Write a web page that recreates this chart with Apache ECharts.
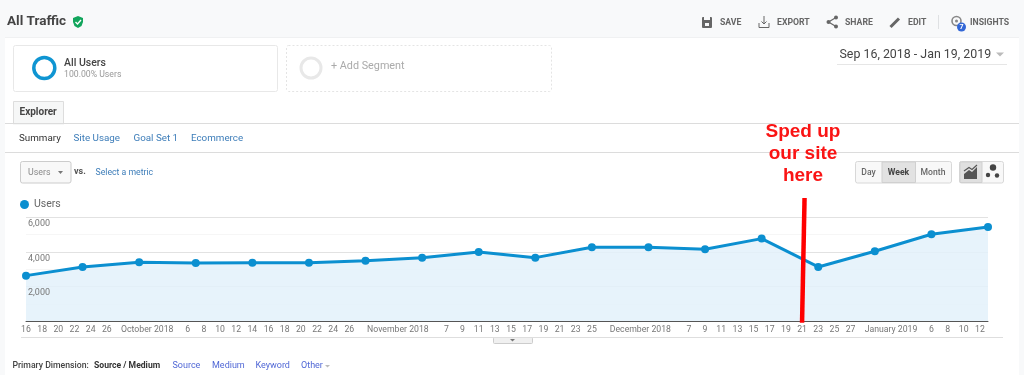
<!DOCTYPE html>
<html>
<head>
<meta charset="utf-8">
<title>All Traffic</title>
<style>
  html, body { margin: 0; padding: 0; background: #fff; }
  #chart { width: 1024px; height: 375px; }
</style>
<script src="https://cdn.jsdelivr.net/npm/echarts@6/dist/echarts.min.js"></script>
</head>
<body>
<div id="chart"></div>
<script>
var weekDates = ['2018-09-16', '2018-09-23', '2018-09-30', '2018-10-07', '2018-10-14', '2018-10-21',
  '2018-10-28', '2018-11-04', '2018-11-11', '2018-11-18', '2018-11-25', '2018-12-02',
  '2018-12-09', '2018-12-16', '2018-12-23', '2018-12-30', '2019-01-06', '2019-01-13']
var users = [2635, 3135, 3404, 3365, 3385, 3385, 3500, 3673, 4000, 3673, 4270, 4270, 4154, 4770, 3135, 4038, 5019, 5442]

var tickDates = ['2018-09-16', '2018-09-18', '2018-09-20', '2018-09-22', '2018-09-24', '2018-09-26',
  '2018-10-01', '2018-10-06', '2018-10-08', '2018-10-10', '2018-10-12', '2018-10-14', '2018-10-16',
  '2018-10-18', '2018-10-20', '2018-10-22', '2018-10-24', '2018-10-26',
  '2018-11-01', '2018-11-07', '2018-11-09', '2018-11-11', '2018-11-13', '2018-11-15', '2018-11-17',
  '2018-11-19', '2018-11-21', '2018-11-23', '2018-11-25',
  '2018-12-01', '2018-12-07', '2018-12-09', '2018-12-11', '2018-12-13', '2018-12-15', '2018-12-17',
  '2018-12-19', '2018-12-21', '2018-12-23', '2018-12-25', '2018-12-27',
  '2019-01-01', '2019-01-06', '2019-01-08', '2019-01-10', '2019-01-12']
var tickLabels = ['16', '18', '20', '22', '24', '26',
  'October 2018', '6', '8', '10', '12', '14', '16', '18', '20', '22', '24', '26',
  'November 2018', '7', '9', '11', '13', '15', '17', '19', '21', '23', '25',
  'December 2018', '7', '9', '11', '13', '15', '17', '19', '21', '23', '25', '27',
  'January 2019', '6', '8', '10', '12']

var toTime = function(d) {
  return new Date(d + 'T00:00:00').getTime()
}
var tickTimes = tickDates.map(toTime)

var blue = '#0b8fd0'
var linkBlue = '#3d7db9'
var dimBlue = '#5168d6'
var font = 'Roboto'

// page furniture around the chart
var txt = function(x, y, text, size, color, weight, align, family) {
  return {
    type: 'text',
    z: 100,
    silent: true,
    style: {
      x: x,
      y: y + 1,
      text: text,
      fontSize: size,
      fill: color,
      fontWeight: weight || 'normal',
      fontFamily: family || font,
      align: align || 'left',
      verticalAlign: 'middle'
    }
  }
}
var box = function(x, y, w, h, fill, stroke, r, dash) {
  return {
    type: 'rect',
    z: 99,
    silent: true,
    shape: { x: x, y: y, width: w, height: h, r: r || 0 },
    style: { fill: fill, stroke: stroke || null, lineWidth: 1, lineDash: dash || null }
  }
}
var line = function(x1, y1, x2, y2, color, w) {
  return {
    type: 'line',
    z: 100,
    silent: true,
    shape: { x1: x1, y1: y1, x2: x2, y2: y2 },
    style: { stroke: color, lineWidth: w }
  }
}
var hline = function(x1, x2, y, color) {
  return line(x1, y, x2, y, color, 1)
}
var poly = function(points, fill) {
  return { type: 'polygon', z: 100, silent: true, shape: { points: points }, style: { fill: fill } }
}
var pline = function(points, color, w) {
  return {
    type: 'polyline',
    z: 100,
    silent: true,
    shape: { points: points },
    style: { stroke: color, lineWidth: w, fill: null }
  }
}
var dot = function(x, y, r, fill) {
  return { type: 'circle', z: 100, silent: true, shape: { cx: x, cy: y, r: r }, style: { fill: fill } }
}
var ring = function(x, y, r, color, w) {
  return {
    type: 'circle',
    z: 100,
    silent: true,
    shape: { cx: x, cy: y, r: r },
    style: { fill: 'none', stroke: color, lineWidth: w }
  }
}

var furniture = [
  // header and side strips
  box(0, 0, 1024, 37, '#f8f9fa'),
  box(0, 37, 5, 338, '#f8f9fa'),
  box(1019, 37, 5, 338, '#f8f9fa'),
  hline(5, 1019, 37.5, '#f0f1f2'),
  txt(7, 21, 'All Traffic', 13.5, '#444', 'bold'),
  poly([[73, 18], [78, 16], [83, 18], [83, 22], [81.5, 26], [78, 28], [74.5, 26], [73, 22]], '#12a55c'),
  pline([[75.5, 22], [77.5, 24], [81, 20]], '#fff', 1.4),

  // toolbar
  box(702, 17, 10, 11, '#666', null, 1),
  box(704, 17, 6, 3, '#f8f9fa'),
  box(705, 23, 4, 3, '#f8f9fa'),
  txt(720, 21.5, 'SAVE', 8.7, '#666', 'bold'),
  pline([[759, 23], [759, 27.5], [769, 27.5], [769, 23]], '#666', 1),
  pline([[764, 16], [764, 24]], '#666', 1),
  pline([[761.5, 21.5], [764, 24], [766.5, 21.5]], '#666', 1),
  txt(777, 21.5, 'EXPORT', 8.7, '#666', 'bold'),
  pline([[836, 17.5], [828.5, 22], [836, 26.5]], '#666', 1.2),
  dot(836, 17.5, 2, '#666'),
  dot(828.5, 22, 2, '#666'),
  dot(836, 26.5, 2, '#666'),
  txt(845, 21.5, 'SHARE', 8.7, '#666', 'bold'),
  line(890.5, 27, 899, 18.5, '#666', 3),
  txt(908, 21.5, 'EDIT', 8.7, '#666', 'bold'),
  line(938.5, 15, 938.5, 29, '#dfe1e3', 1),
  ring(956.5, 21, 4.5, '#888', 1.6),
  dot(956.5, 21, 1.5, '#888'),
  dot(961.5, 27, 4.5, '#3367d6'),
  txt(961.5, 26.5, '7', 7, '#fff', 'bold', 'center'),
  txt(970, 21.5, 'INSIGHTS', 8.7, '#666', 'bold'),

  // segments and date range
  box(13.5, 45.5, 264, 46, '#fff', '#e8e8e8', 2),
  ring(44.3, 68, 10.5, '#0f95d2', 3.5),
  txt(64, 62, 'All Users', 10.5, '#444', '500'),
  txt(64, 74, '100.00% Users', 8.7, '#999'),
  box(286.5, 45.5, 265, 46, '#fff', '#e4e4e4', 2, [2, 2]),
  ring(311, 68, 10, '#e8e8e8', 3),
  txt(331, 65.5, '+ Add Segment', 10.8, '#aaa'),
  txt(839.5, 53.5, 'Sep 16, 2018 - Jan 19, 2019', 12.4, '#444'),
  poly([[996, 52.5], [1004, 52.5], [1000, 56.5]], '#bbb'),
  hline(837, 1007, 64.5, '#e6e6e6'),

  // tabs
  box(13.5, 101.5, 50, 22.5, '#f6f7f7', '#ddd'),
  hline(5, 1019, 123.5, '#dcdcdc'),
  box(14, 122, 49, 3, '#f6f7f7'),
  txt(19.5, 111.5, 'Explorer', 10, '#444', 'bold'),
  txt(19, 137.5, 'Summary', 9.8, '#333'),
  txt(73.5, 137.5, 'Site Usage', 9.8, linkBlue),
  txt(133.5, 137.5, 'Goal Set 1', 9.8, linkBlue),
  txt(191, 137.5, 'Ecommerce', 9.8, linkBlue),
  hline(5, 1019, 152.5, '#dcdcdc'),

  // metric picker
  box(20.5, 161.5, 50.5, 21.5, '#f8f8f8', '#ccc', 2),
  txt(28, 171.5, 'Users', 8.8, '#888'),
  poly([[58, 171], [63, 171], [60.5, 174]], '#777'),
  txt(74, 170.5, 'vs.', 9, '#555', 'bold'),
  txt(95.5, 171.5, 'Select a metric', 8.7, linkBlue),

  // granularity buttons
  box(855.5, 161.5, 96, 21.5, '#f8f8f8', '#d8d8d8', 2),
  box(882, 162, 33.5, 20.5, '#e2e2e2', '#d0d0d0'),
  txt(868.5, 171.5, 'Day', 8.6, '#666', '500', 'center'),
  txt(898.5, 171.5, 'Week', 8.7, '#444', 'bold', 'center'),
  txt(933, 171.5, 'Month', 8.6, '#666', '500', 'center'),
  box(959.5, 161.5, 44, 21.5, '#f8f8f8', '#d8d8d8', 2),
  box(960, 162, 22, 20.5, '#e0e0e0', '#d0d0d0'),
  poly([[964, 179], [964, 174], [969, 170], [972, 172], [977, 167], [977, 179]], '#555'),
  pline([[964, 171], [969, 167.5], [972, 169.5], [977, 165]], '#555', 1.2),
  dot(993, 167.5, 3.2, '#444'),
  dot(988, 175, 2.2, '#444'),
  dot(997, 175.5, 2.2, '#444'),

  // strip under the chart
  hline(21, 1003, 337.5, '#dedede'),
  box(493.5, 337.5, 39, 6, '#f0f0f0', '#ccc', 1),
  poly([[510, 339], [515, 339], [512.5, 341.5]], '#777'),
  txt(12.5, 365, 'Primary Dimension:', 8.7, '#444', '500'),
  txt(94, 365, 'Source / Medium', 8.6, '#333', 'bold'),
  txt(172.5, 365, 'Source', 9, dimBlue),
  txt(212, 365, 'Medium', 9, dimBlue),
  txt(255.5, 365, 'Keyword', 9, dimBlue),
  txt(301, 365, 'Other', 9, dimBlue),
  poly([[325, 365], [330, 365], [327.5, 367.5]], '#bbb'),

  // hand drawn note
  txt(803, 131, 'Sped up', 19, '#fa1414', 'bold', 'center', 'Liberation Sans'),
  txt(803, 153, 'our site', 19, '#fa1414', 'bold', 'center', 'Liberation Sans'),
  txt(803, 175, 'here', 19, '#fa1414', 'bold', 'center', 'Liberation Sans'),
  poly([[802.3, 198], [806.8, 198], [804.3, 322.7], [799.8, 322.7]], '#ff0000')
]

var chart = echarts.init(document.getElementById('chart'))
chart.setOption({
  backgroundColor: '#fff',
  animation: false,
  textStyle: { fontFamily: font },
  legend: {
    left: 15,
    top: 194,
    icon: 'circle',
    itemWidth: 9,
    itemHeight: 9,
    itemGap: 6,
    textStyle: { fontSize: 10.5, color: '#666', fontFamily: font },
    data: ['Users']
  },
  grid: { left: 26, right: 36, top: 217.3, bottom: 53.7 },
  xAxis: {
    // plain value axis over epoch ms, time axes choke on customValues
    type: 'value',
    z: 5,
    min: toTime(weekDates[0]),
    max: toTime(weekDates[weekDates.length - 1]),
    axisLine: { show: true, lineStyle: { color: '#555', width: 1 } },
    axisTick: { show: false },
    splitLine: { show: false },
    axisLabel: {
      customValues: tickTimes,
      hideOverlap: false,
      margin: 4,
      fontSize: 8.7,
      color: '#777',
      fontFamily: font,
      formatter: function(value) {
        return tickLabels[tickTimes.indexOf(value)]
      }
    }
  },
  yAxis: [{
    // gridlines stay under the area
    type: 'value',
    min: 0,
    max: 6000,
    interval: 2000,
    axisLine: { show: false },
    axisTick: { show: false },
    axisLabel: { show: false },
    minorTick: { show: false, splitNumber: 2 },
    minorSplitLine: { show: true, lineStyle: { color: '#f6f6f6' } },
    splitLine: { lineStyle: { color: '#e2e2e2' } }
  }, {
    // labels sit on top of the area
    type: 'value',
    position: 'left',
    z: 5,
    min: 0,
    max: 6000,
    interval: 2000,
    axisLine: { show: false },
    axisTick: { show: false },
    splitLine: { show: false },
    axisLabel: {
      inside: true,
      margin: 2,
      fontSize: 9,
      color: '#777',
      fontFamily: font,
      verticalAlign: 'top',
      padding: [2, 0, 0, 0],
      showMinLabel: false,
      formatter: function(value) {
        return value.toLocaleString('en-US')
      }
    }
  }],
  series: [{
    name: 'Users',
    type: 'line',
    symbol: 'circle',
    symbolSize: 8,
    showAllSymbol: true,
    lineStyle: { color: blue, width: 3 },
    itemStyle: { color: blue },
    areaStyle: { color: '#e3f1fa', opacity: 0.85 },
    data: weekDates.map(function(d, i) {
      return [toTime(d), users[i]]
    })
  }],
  graphic: furniture
})
</script>
</body>
</html>
